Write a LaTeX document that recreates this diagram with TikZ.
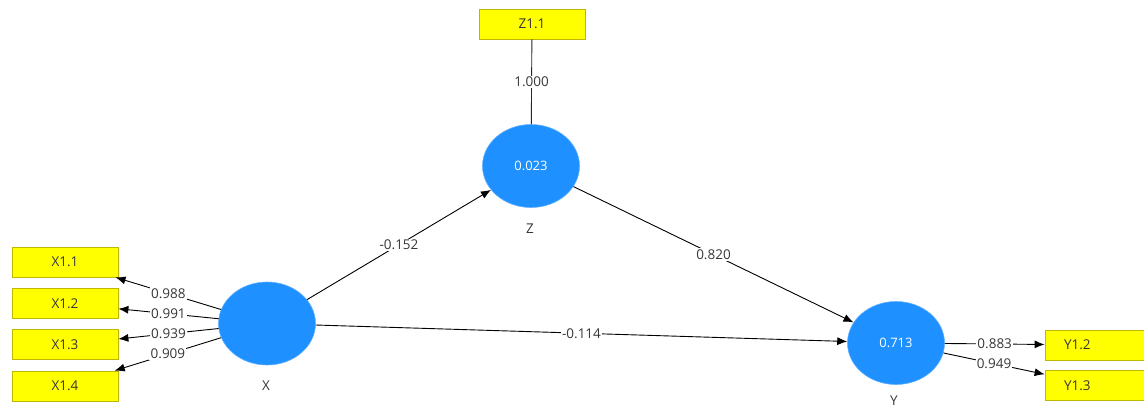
\documentclass[tikz,border=0pt]{standalone}
\usepackage{fontspec}
\setmainfont{Open Sans}
\usetikzlibrary{shapes.geometric,arrows.meta}
\definecolor{lvblue}{RGB}{30,144,255}
\definecolor{mvyellow}{RGB}{255,255,0}
\definecolor{mvborder}{RGB}{190,185,0}
\definecolor{txtgray}{RGB}{55,55,55}
\tikzset{
  latent/.style={ellipse, fill=lvblue, draw=lvblue!70!white, line width=0.6pt,
    minimum width=97pt, minimum height=83pt, inner sep=0pt,
    text=white, font=\fontsize{13}{15}\selectfont},
  indicator/.style={rectangle, fill=mvyellow, draw=mvborder, line width=0.8pt,
    minimum width=106pt, minimum height=30pt, inner sep=0pt,
    text=txtgray, font=\fontsize{13.5}{15}\selectfont},
  rightcut/.style={indicator, text width=68pt, align=left, inner xsep=19pt},
  caption/.style={text=txtgray, font=\fontsize{13.5}{15}\selectfont},
  coef/.style={fill=white, inner sep=1.2pt, text=txtgray,
    font=\fontsize{13.5}{15}\selectfont},
  path/.style={draw=black, line width=0.9pt, -{Latex[length=10pt,width=8pt]}},
  plainpath/.style={draw=black!85, line width=0.9pt}
}
\begin{document}
\begin{tikzpicture}[x=1pt,y=-1pt]
\useasboundingbox (0,0) rectangle (1144,412);
\clip (0,0) rectangle (1144,412);

% latent variables
\node[latent] (X) at (267,323.5) {};
\node[latent] (Z) at (531,166) {0.023};
\node[latent] (Y) at (896,343) {0.713};
\node[caption] (Xlab) at (266,386) {X};
\node[caption] (Zlab) at (530,229) {Z};
\node[caption] (Ylab) at (894,401) {Y};

% indicators
\node[indicator] (X11) at (65,262) {X1.1};
\node[indicator] (X12) at (65,303.5) {X1.2};
\node[indicator] (X13) at (65,344.5) {X1.3};
\node[indicator] (X14) at (65,386) {X1.4};
\node[indicator] (Z11) at (532,24) {Z1.1};
\node[rightcut] (Y12) at (1098,345) {Y1.2};
\node[rightcut] (Y13) at (1098,385.5) {Y1.3};

% outer loadings
\draw[path] (X) -- node[coef] {0.988} (X11);
\draw[path] (X) -- node[coef] {0.991} (X12);
\draw[path] (X) -- node[coef] {0.939} (X13);
\draw[path] (X) -- node[coef] {0.909} (X14);
\draw[plainpath] (Z) -- node[coef] {1.000} (Z11);
\draw[path] (Y) -- node[coef] {0.883} (Y12);
\draw[path] (Y) -- node[coef] {0.949} (Y13);

% structural paths
\draw[path] (X) -- node[coef] {-0.152} (Z);
\draw[path] (Z) -- node[coef] {0.820} (Y);
\draw[path] (X) -- node[coef] {-0.114} (Y);
\end{tikzpicture}
\end{document}
